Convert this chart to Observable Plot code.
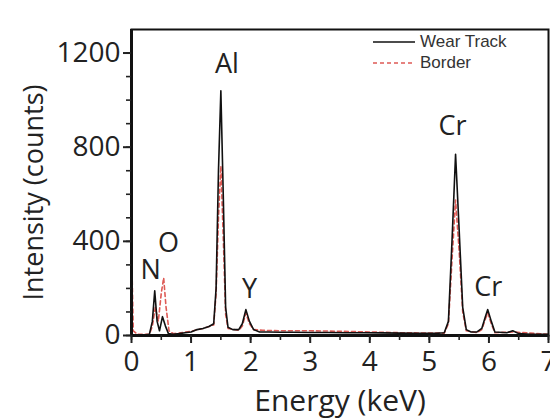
<!DOCTYPE html>
<html>
<head>
<meta charset="utf-8">
<script src="https://cdn.jsdelivr.net/npm/d3@7"></script>
<script src="https://cdn.jsdelivr.net/npm/@observablehq/plot@0.6"></script>
<style>
  html, body { margin: 0; padding: 0; background: #fff; }
  #wrap { position: relative; width: 550px; height: 419px; }
  #legend { position: absolute; left: 372px; top: 31px; font-family: "Liberation Sans", Arial, sans-serif; font-size: 17px; color: #333; }
  #legend .row { display: flex; align-items: center; height: 21px; }
  #legend svg { margin-right: 4px; }
</style>
</head>
<body>
<div id="wrap">
  <div id="chart"></div>
  <div id="legend"></div>
</div>
<script>
// ---- data ----
const seriesNames = ["Wear Track", "Border"];

const energyWear = [0, 0.1, 0.2, 0.3, 0.35, 0.39, 0.43, 0.47, 0.52, 0.57, 0.62, 0.7, 0.8, 0.9, 1.0, 1.1, 1.2, 1.3, 1.38, 1.42, 1.46, 1.5, 1.54, 1.58, 1.62, 1.7, 1.8, 1.86, 1.92, 1.98, 2.05, 2.15, 2.3, 2.5, 2.7, 3.0, 3.3, 3.6, 3.9, 4.2, 4.5, 4.8, 5.1, 5.25, 5.32, 5.38, 5.44, 5.5, 5.56, 5.62, 5.7, 5.8, 5.88, 5.94, 5.98, 6.04, 6.1, 6.3, 6.4, 6.5, 6.7, 7.0];
const countsWear = [0, 0, 2, 5, 60, 190, 60, 20, 80, 40, 8, 5, 8, 12, 15, 25, 30, 38, 50, 200, 700, 1040, 600, 120, 35, 25, 25, 50, 110, 60, 25, 15, 15, 14, 14, 13, 13, 12, 12, 11, 10, 9, 9, 12, 60, 400, 770, 450, 120, 25, 15, 15, 30, 80, 110, 60, 15, 12, 20, 8, 5, 5];

const energyBorder = [0, 0.03, 0.1, 0.3, 0.35, 0.4, 0.45, 0.5, 0.54, 0.58, 0.63, 0.7, 0.8, 1.0, 1.2, 1.38, 1.42, 1.46, 1.5, 1.54, 1.58, 1.62, 1.8, 1.86, 1.92, 1.98, 2.05, 2.2, 2.5, 3.0, 3.5, 4.0, 4.5, 5.0, 5.25, 5.32, 5.38, 5.44, 5.5, 5.56, 5.62, 5.8, 5.88, 5.94, 5.98, 6.04, 6.1, 6.4, 7.0];
const countsBorder = [380, 20, 5, 5, 40, 120, 60, 180, 245, 120, 20, 8, 10, 18, 30, 45, 180, 500, 720, 420, 90, 30, 22, 40, 95, 50, 25, 22, 20, 20, 18, 15, 12, 10, 10, 50, 320, 575, 360, 100, 20, 12, 25, 70, 95, 50, 12, 15, 5];

const peakLabels = ["N", "O", "Al", "Y", "Cr", "Cr"];
const peakEnergy = [0.32, 0.62, 1.6, 1.98, 5.39, 5.99];
const peakCounts = [277, 391, 1150, 196, 890, 205];

const yMajorTicks = [0, 400, 800, 1200];
const yMinorTicks = [0, 100, 200, 300, 400, 500, 600, 700, 800, 900, 1000, 1100, 1200];
const xMajorTicks = [0, 1, 2, 3, 4, 5, 6, 7];
const xMinorTicks = [0, 0.5, 1, 1.5, 2, 2.5, 3, 3.5, 4, 4.5, 5, 5.5, 6, 6.5, 7];

// ---- build tables ----
const wear = energyWear.map((e, i) => ({energy: e, counts: countsWear[i]}));
const border = energyBorder.map((e, i) => ({energy: e, counts: countsBorder[i]}));
const peaks = peakLabels.map((t, i) => ({label: t, energy: peakEnergy[i], counts: peakCounts[i]}));

const black = "#111";
const red = "#de5a55";
const font = "'Open Sans', 'Noto Sans', sans-serif";
const fmt = d3.format("d");

const chart = Plot.plot({
  width: 550,
  height: 419,
  marginLeft: 131,
  marginRight: 2,
  marginTop: 29,
  marginBottom: 84,
  style: {fontFamily: font, background: "#fff", color: "#222"},
  x: {domain: [0, 7]},
  y: {domain: [0, 1300]},
  marks: [
    Plot.line(border, {x: "energy", y: "counts", stroke: red, strokeWidth: 1.6, strokeDasharray: "4,3"}),
    Plot.line(wear, {x: "energy", y: "counts", stroke: black, strokeWidth: 1.6}),
    Plot.frame({stroke: black, strokeWidth: 2}),
    Plot.ruleX([0], {stroke: black, strokeWidth: 3}),
    Plot.ruleY([0], {stroke: black, strokeWidth: 3}),
    Plot.axisY({ticks: yMinorTicks, tickSize: 5, strokeWidth: 1.6, text: null, label: null}),
    Plot.axisY({ticks: yMajorTicks, tickSize: 8, strokeWidth: 2, tickPadding: 3, fontSize: 28, tickFormat: fmt, label: null}),
    Plot.axisX({ticks: xMinorTicks, tickSize: 5, strokeWidth: 1.6, text: null, label: null}),
    Plot.axisX({ticks: xMajorTicks, tickSize: 8, strokeWidth: 2, tickPadding: 8, fontSize: 28, tickFormat: fmt, label: null}),
    Plot.text(["Energy (keV)"], {frameAnchor: "bottom", dy: 66, textAnchor: "middle", lineAnchor: "middle", fontSize: 30, fill: "#222"}),
    Plot.text(["Intensity (counts)"], {frameAnchor: "left", dx: -97, dy: 10, rotate: -90, textAnchor: "middle", lineAnchor: "middle", fontSize: 27, fill: "#222"}),
    Plot.text(peaks, {x: "energy", y: "counts", text: "label", fontSize: 27, fill: "#222", lineAnchor: "middle"})
  ]
});
document.getElementById("chart").appendChild(chart);

// ---- legend ----
const legend = document.getElementById("legend");
const styles = [{stroke: black, dash: ""}, {stroke: red, dash: "4,3"}];
seriesNames.forEach((name, i) => {
  const row = document.createElement("div");
  row.className = "row";
  row.innerHTML = `<svg width="44" height="10"><line x1="1" y1="5" x2="43" y2="5" stroke="${styles[i].stroke}" stroke-width="1.6" stroke-dasharray="${styles[i].dash}"/></svg><span>${name}</span>`;
  legend.appendChild(row);
});
</script>
</body>
</html>
